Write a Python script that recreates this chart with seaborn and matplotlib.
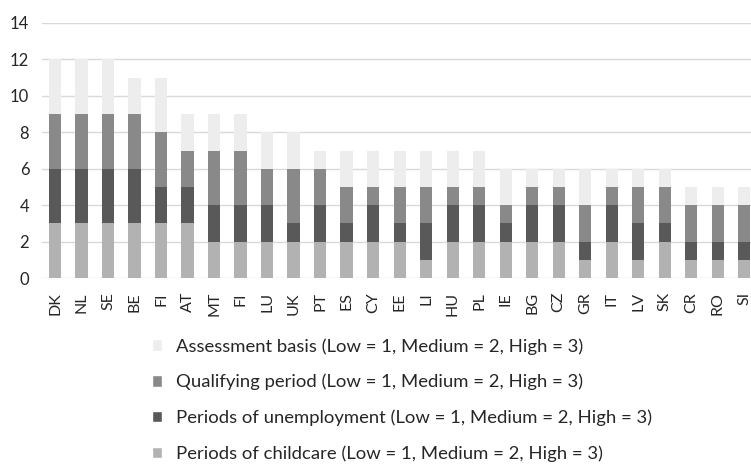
import numpy as np
import pandas as pd
import seaborn as sns
import matplotlib.pyplot as plt
from matplotlib.patches import Patch

countries = ["DK", "NL", "SE", "BE", "FI", "AT", "MT", "FI", "LU", "UK", "PT", "ES", "CY", "EE",
             "LI", "HU", "PL", "IE", "BG", "CZ", "GR", "IT", "LV", "SK", "CR", "RO", "SI"]

# stacked bottom -> top
childcare    = [3, 3, 3, 3, 3, 3, 2, 2, 2, 2, 2, 2, 2, 2, 1, 2, 2, 2, 2, 2, 1, 2, 1, 2, 1, 1, 1]
unemployment = [3, 3, 3, 3, 2, 2, 2, 2, 2, 1, 2, 1, 2, 1, 2, 2, 2, 1, 2, 2, 1, 2, 2, 1, 1, 1, 1]
qualifying   = [3, 3, 3, 3, 3, 2, 3, 3, 2, 3, 2, 2, 1, 2, 2, 1, 1, 1, 1, 1, 2, 1, 2, 2, 2, 2, 2]
assessment   = [3, 3, 3, 2, 3, 2, 2, 2, 2, 2, 1, 2, 2, 2, 2, 2, 2, 2, 1, 1, 2, 1, 1, 1, 1, 1, 1]

layers = [
    ("Periods of childcare (Low = 1, Medium = 2, High = 3)", childcare, "#b2b2b2"),
    ("Periods of unemployment (Low = 1, Medium = 2, High = 3)", unemployment, "#595959"),
    ("Qualifying period (Low = 1, Medium = 2, High = 3)", qualifying, "#898989"),
    ("Assessment basis (Low = 1, Medium = 2, High = 3)", assessment, "#ededed"),
]

sns.set_style("white")
plt.rcParams['font.family'] = ['Lato', 'DejaVu Sans']

fig = plt.figure(figsize=(7.51, 4.69), dpi=100)
ax = fig.add_axes([0.0556, 0.407, 0.953, 0.544])

pos = np.arange(len(countries))
bottom = np.zeros(len(countries))
for label, vals, col in layers:
    df = pd.DataFrame({"pos": pos, "val": vals})
    sns.barplot(data=df, x="pos", y="val", bottom=bottom, color=col, width=0.46,
                saturation=1, linewidth=0, ax=ax, zorder=3)
    bottom = bottom + np.array(vals)

ax.set_ylim(0, 14)
ax.set_yticks(range(0, 15, 2))
ax.set_xlim(-0.5, len(countries) - 0.5)
ax.set_xticks(pos)
ax.set_xticklabels(countries, rotation=90)
ax.set_xlabel("")
ax.set_ylabel("")
ax.grid(axis="y", color="#d9d9d9", linewidth=1, zorder=0)
ax.tick_params(axis="both", length=0, colors="#262626")
ax.tick_params(axis="y", pad=9, labelsize=12)
ax.tick_params(axis="x", pad=10, labelsize=11.5)
for s in ax.spines.values():
    s.set_visible(False)

# legend kept just inside the bottom edge
handles = [Patch(facecolor=col, label=label) for label, _, col in layers[::-1]]
fig.legend(handles=handles, loc="upper left", bbox_to_anchor=(0.2024, 0.279),
           frameon=False, borderpad=0, borderaxespad=0,
           handlelength=0.54, handleheight=0.58, handletextpad=0.76,
           labelspacing=1.04, fontsize=13.3, labelcolor="#262626")

fig.savefig("out.png", dpi=100)
